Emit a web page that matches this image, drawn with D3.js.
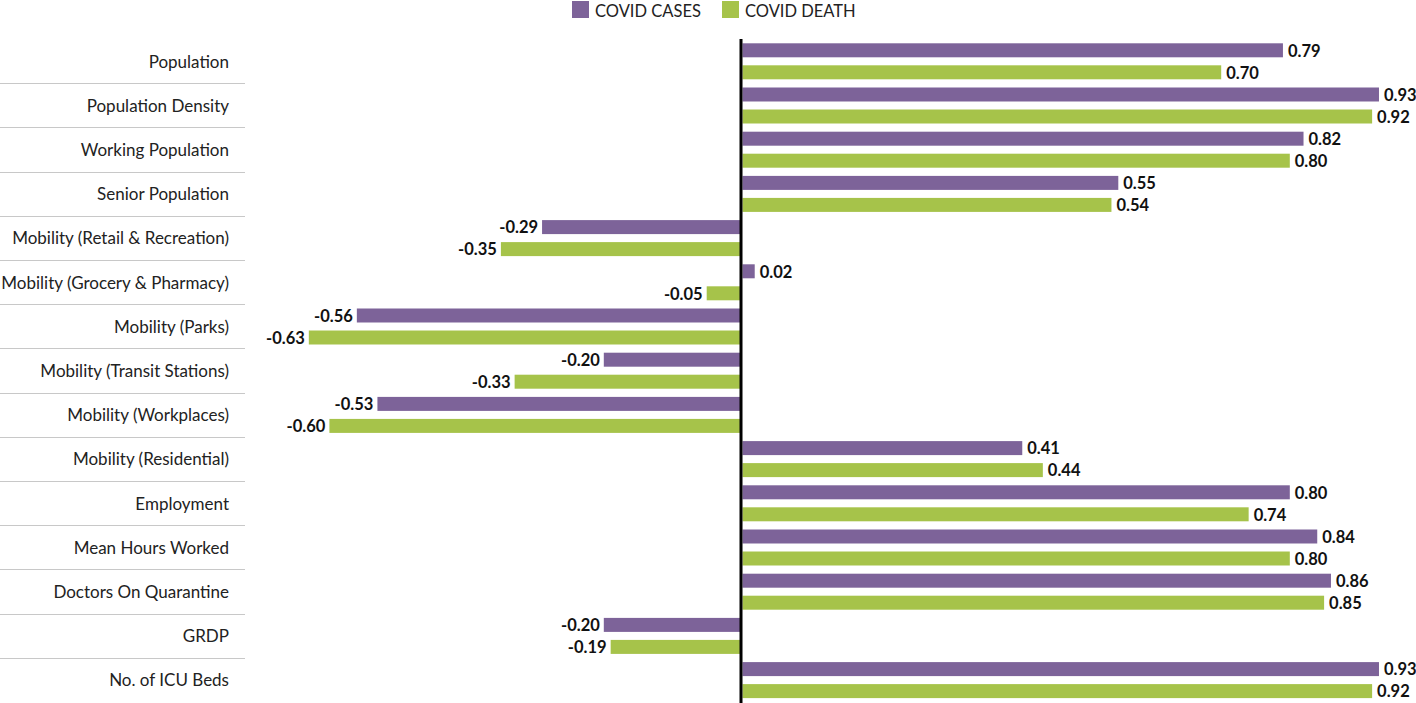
<!DOCTYPE html>
<html><head><meta charset="utf-8">
<script src="https://cdn.jsdelivr.net/npm/d3@7"></script>
<style>body{margin:0;background:#fff}svg{display:block}</style>
</head><body>
<script>
const categories = ["Population","Population Density","Working Population","Senior Population","Mobility (Retail & Recreation)","Mobility (Grocery & Pharmacy)","Mobility (Parks)","Mobility (Transit Stations)","Mobility (Workplaces)","Mobility (Residential)","Employment","Mean Hours Worked","Doctors On Quarantine","GRDP","No. of ICU Beds"];
const covidCases = [0.79,0.93,0.82,0.55,-0.29,0.02,-0.56,-0.20,-0.53,0.41,0.80,0.84,0.86,-0.20,0.93];
const covidDeath = [0.70,0.92,0.80,0.54,-0.35,-0.05,-0.63,-0.33,-0.60,0.44,0.74,0.80,0.85,-0.19,0.92];
const seriesNames = ["COVID CASES","COVID DEATH"];
const colors = ["#7d6399","#a6c34a"];

const W=1416,H=703;
const svg=d3.select("body").append("svg").attr("width",W).attr("height",H);
const x=d3.scaleLinear().domain([0,1]).range([741,741+686]);
const y=d3.scaleBand().domain(categories).range([40,703]);
const sub=d3.scaleBand().domain([0,1]).range([3.3,39.3]).paddingInner(0.364);
const font="Lato, 'Noto Sans', sans-serif";
const fmt=v=>d3.format(".2f")(v).replace("\u2212","-");

// separators
svg.append("g").selectAll("line").data(categories.slice(1)).join("line")
  .attr("x1",0).attr("x2",245).attr("y1",d=>Math.round(y(d))-0.5).attr("y2",d=>Math.round(y(d))-0.5)
  .attr("stroke","#c8c8c8").attr("stroke-width",1);

// category labels
svg.append("g").selectAll("text").data(categories).join("text")
  .attr("x",229).attr("y",d=>y(d)+y.bandwidth()/2+5.5).attr("text-anchor","end")
  .attr("font-family",font).attr("font-size",17).attr("fill","#222").text(d=>d);

const data=[];
categories.forEach((c,i)=>{data.push({c,s:0,v:covidCases[i]});data.push({c,s:1,v:covidDeath[i]});});

svg.append("g").selectAll("rect").data(data).join("rect")
  .attr("x",d=>d.v>=0?x(0)+1.5:x(d.v))
  .attr("width",d=>d.v>=0?x(d.v)-x(0)-1.5:x(0)-x(d.v))
  .attr("y",d=>y(d.c)+sub(d.s)).attr("height",sub.bandwidth())
  .attr("fill",d=>colors[d.s]);

svg.append("g").selectAll("text").data(data).join("text")
  .attr("x",d=>d.v>=0?x(d.v)+5:x(d.v)-4)
  .attr("text-anchor",d=>d.v>=0?"start":"end")
  .attr("y",d=>y(d.c)+sub(d.s)+sub.bandwidth()/2+6.3)
  .attr("font-family",font).attr("font-size",16.5).attr("font-weight","bold").attr("fill","#111")
  .text(d=>fmt(d.v));

// zero line
svg.append("line").attr("x1",x(0)).attr("x2",x(0)).attr("y1",39).attr("y2",703)
  .attr("stroke","#000").attr("stroke-width",3);

// legend
const lg=svg.append("g");
const lx=[572,722];
seriesNames.forEach((n,i)=>{
  lg.append("rect").attr("x",lx[i]).attr("y",1).attr("width",17).attr("height",17).attr("fill",colors[i]);
  lg.append("text").attr("x",lx[i]+23).attr("y",17)
    .attr("font-family",font).attr("font-size",16.5).attr("fill","#222").text(n);
});
</script>
</body></html>
